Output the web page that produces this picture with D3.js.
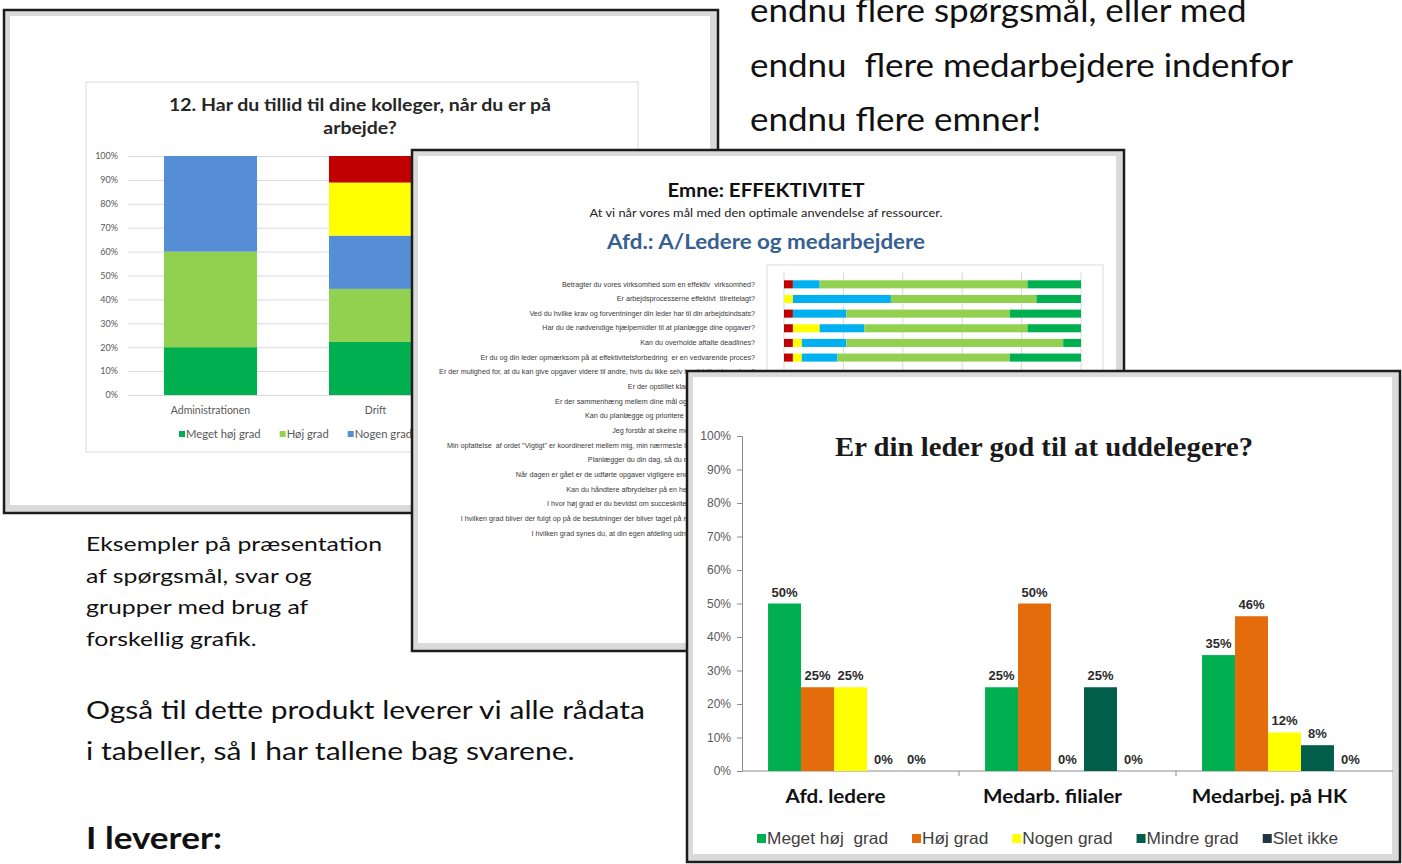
<!DOCTYPE html>
<html><head><meta charset="utf-8">
<script src="https://cdn.jsdelivr.net/npm/d3@7"></script>
<style>body{margin:0;background:#fff}svg{display:block}text{white-space:pre}</style>
</head><body>
<svg id="c" width="1402" height="864"></svg>
<script>
// ---------------- DATA ----------------
// Page text
const pageTopLines = ["endnu flere spørgsmål, eller med", "endnu  flere medarbejdere indenfor", "endnu flere emner!"];
const captionLines = ["Eksempler på præsentation", "af spørgsmål, svar og", "grupper med brug af", "forskellig grafik."];
const bodyLines = ["Også til dette produkt leverer vi alle rådata", "i tabeller, så I har tallene bag svarene."];
const headingText = "I leverer:";

// Chart 1: stacked 100% columns
const c1Title = ["12. Har du tillid til dine kolleger, når du er på", "arbejde?"];
const c1Categories = ["Administrationen", "Drift"];
const c1Series = ["Meget høj grad", "Høj grad", "Nogen grad", "Mindre grad", "Slet ikke"];
const c1Administrationen = [20, 40, 40, 0, 0];
const c1Drift = [22.2, 22.2, 22.3, 22.2, 11.1];
const c1Ticks = [0, 10, 20, 30, 40, 50, 60, 70, 80, 90, 100];

// Chart 2: horizontal stacked bars
const c2Heading = "Emne: EFFEKTIVITET";
const c2Sub = "At vi når vores mål med den optimale anvendelse af ressourcer.";
const c2Dept = "Afd.: A/Ledere og medarbejdere";
const c2Questions = [
  "Betragter du vores virksomhed som en effektiv  virksomhed?",
  "Er arbejdsprocesserne effektivt  tilrettelagt?",
  "Ved du hvilke krav og forventninger din leder har til din arbejdsindsats?",
  "Har du de nødvendige hjælpemidler til at planlægge dine opgaver?",
  "Kan du overholde aftalte deadlines?",
  "Er du og din leder opmærksom på at effektivitetsforbedring  er en vedvarende proces?",
  "Er der mulighed for, at du kan give opgaver videre til andre, hvis du ikke selv har tid til at løse dem?",
  "Er der opstillet klare mål for dit arbejde?",
  "Er der sammenhæng mellem dine mål og virksomhedens mål?",
  "Kan du planlægge og prioritere dine arbejdsopgaver?",
  "Jeg forstår at skelne mellem vigtigt og haster",
  "Min opfattelse  af ordet \"Vigtigt\" er koordineret mellem mig, min nærmeste leder og mine kolleger",
  "Planlægger du din dag, så du når det vigtigste først?",
  "Når dagen er gået er de udførte opgaver vigtigere end dem du ikke nåede?",
  "Kan du håndtere afbrydelser på en hensigtsmæssig måde?",
  "I hvor høj grad er du bevidst om succeskriterierne for dit arbejde?",
  "I hvilken grad bliver der fulgt op på de beslutninger der bliver taget på møderne i afdelingen?",
  "I hvilken grad synes du, at din egen afdeling udnytter sine ressourcer?"
];
const c2Series = ["Slet ikke", "Mindre grad", "Nogen grad", "Høj grad", "Meget høj grad"];
// visible rows (1-6), values in % per series
const c2SletIkke   = [3, 0, 3, 3, 3, 3];
const c2MindreGrad = [0, 3, 0, 9, 3, 3];
const c2NogenGrad  = [9, 33, 18, 15, 15, 12];
const c2HojGrad    = [70, 49, 55, 55, 73, 58];
const c2MegetHoj   = [18, 15, 24, 18, 6, 24];
const c2Ticks = [0, 20, 40, 60, 80, 100];

// Chart 3: grouped columns
const c3Title = "Er din leder god til at uddelegere?";
const c3Groups = ["Afd. ledere", "Medarb. filialer", "Medarbej. på HK"];
const c3Series = ["Meget høj  grad", "Høj grad", "Nogen grad", "Mindre grad", "Slet ikke"];
const c3MegetHoj = [0.50, 0.25, 0.346];
const c3Hoj      = [0.25, 0.50, 0.462];
const c3Nogen    = [0.25, 0.00, 0.115];
const c3Mindre   = [0.00, 0.25, 0.077];
const c3Slet     = [0.00, 0.00, 0.000];
const c3Ticks = [0, 0.1, 0.2, 0.3, 0.4, 0.5, 0.6, 0.7, 0.8, 0.9, 1.0];

// ---------------- STYLES ----------------
const BODY = "Lato, 'Open Sans', sans-serif";
const ARIAL = "'Liberation Sans', Arial, sans-serif";
const SERIF = "'Liberation Serif', 'Times New Roman', serif";
const c1Colors = ["#00B050", "#92D050", "#558ED5", "#FFFF00", "#C00000"];
const c2Colors = ["#C00000", "#FFFF00", "#00B0F0", "#92D050", "#00B050"];
const c3Colors = ["#00B050", "#E46C0A", "#FFFF00", "#005E4B", "#1E3646"];

// stretch a block of texts so that its reference line gets the target width
function fitBlock(sel, target, refIndex = 0) {
  const nodes = sel.nodes();
  const k = target / nodes[refIndex].getComputedTextLength();
  nodes.forEach(n => {
    const w = n.getComputedTextLength();
    n.setAttribute("textLength", w * k);
    n.setAttribute("lengthAdjust", "spacingAndGlyphs");
  });
  return k;
}

const svg = d3.select("#c");
svg.append("rect").attr("width", 1402).attr("height", 864).attr("fill", "#fff");

// ---------------- PAGE TEXT ----------------
const page = svg.append("g");
fitBlock(page.selectAll("text.top").data(pageTopLines).join("text").attr("class", "top")
  .attr("x", 750).attr("y", (d, i) => 22 + i * 54.5)
  .attr("font-family", BODY).attr("font-size", 32).attr("fill", "#111").text(d => d), 543, 1);
fitBlock(page.selectAll("text.cap").data(captionLines).join("text").attr("class", "cap")
  .attr("x", 86).attr("y", (d, i) => 551 + i * 31.5)
  .attr("font-family", BODY).attr("font-size", 20).attr("fill", "#111").text(d => d), 296);
fitBlock(page.selectAll("text.body").data(bodyLines).join("text").attr("class", "body")
  .attr("x", 86).attr("y", (d, i) => 719 + i * 41)
  .attr("font-family", BODY).attr("font-size", 25).attr("fill", "#111").text(d => d), 559);
fitBlock(page.append("text").attr("x", 86).attr("y", 849)
  .attr("font-family", BODY).attr("font-size", 30).attr("font-weight", 700).attr("fill", "#111").text(headingText), 136);

function panel(g, x, y, w, h) {
  g.append("rect").attr("x", x).attr("y", y).attr("width", w).attr("height", h)
    .attr("fill", "#dadada").attr("stroke", "#1c1c1c").attr("stroke-width", 2.5);
  g.append("rect").attr("x", x + 6).attr("y", y + 6).attr("width", w - 14).attr("height", h - 14)
    .attr("fill", "#fff");
}

// ---------------- PANEL 1 ----------------
const p1 = svg.append("g");
panel(p1, 4, 10, 714, 503);
p1.append("rect").attr("x", 86).attr("y", 82).attr("width", 552).attr("height", 370)
  .attr("fill", "#fff").attr("stroke", "#d9d9d9");
fitBlock(p1.selectAll("text.t").data(c1Title).join("text").attr("class", "t")
  .attr("x", 360).attr("y", (d, i) => 111 + i * 23).attr("text-anchor", "middle")
  .attr("font-family", BODY).attr("font-size", 16.5).attr("font-weight", 700).attr("fill", "#262626").text(d => d), 382);

const y1 = d3.scaleLinear().domain([0, 100]).range([395, 156]);
const x1 = d3.scaleBand().domain(c1Categories).range([128, 458]).paddingInner(0.436).paddingOuter(0.218);
const ax1 = p1.append("g").attr("transform", "translate(128,0)")
  .call(d3.axisLeft(y1).tickValues(c1Ticks).tickSize(-495).tickPadding(10).tickFormat(d => d + "%"));
ax1.select(".domain").remove();
ax1.selectAll(".tick line").attr("stroke", "#d9d9d9");
ax1.selectAll(".tick text").attr("font-family", BODY).attr("font-size", 9).attr("fill", "#595959");

const c1Rows = c1Categories.map((c, i) => {
  const vals = [c1Administrationen, c1Drift][i];
  const o = { cat: c };
  c1Series.forEach((s, j) => o[s] = vals[j]);
  return o;
});
const st1 = d3.stack().keys(c1Series)(c1Rows);
p1.append("g").selectAll("g").data(st1).join("g").attr("fill", (d, i) => c1Colors[i])
  .selectAll("rect").data(d => d).join("rect")
  .attr("x", d => x1(d.data.cat)).attr("width", x1.bandwidth())
  .attr("y", d => y1(d[1])).attr("height", d => y1(d[0]) - y1(d[1]));
p1.selectAll("text.cat").data(c1Categories).join("text").attr("class", "cat")
  .attr("x", d => x1(d) + x1.bandwidth() / 2).attr("y", 414).attr("text-anchor", "middle")
  .attr("font-family", BODY).attr("font-size", 10.5).attr("fill", "#595959").text(d => d);
{
  let lx = 179;
  c1Series.forEach((s, i) => {
    p1.append("rect").attr("x", lx).attr("y", 431).attr("width", 6).attr("height", 6).attr("fill", c1Colors[i]);
    const t = p1.append("text").attr("x", lx + 7).attr("y", 438)
      .attr("font-family", BODY).attr("font-size", 10.5).attr("fill", "#595959").text(s);
    const w = t.node().getComputedTextLength() * 1.07;
    t.attr("textLength", w).attr("lengthAdjust", "spacingAndGlyphs");
    lx += 7 + w + 19;
  });
}

// ---------------- PANEL 2 ----------------
const p2 = svg.append("g");
panel(p2, 412, 150, 712, 501);
fitBlock(p2.append("text").attr("x", 766).attr("y", 197).attr("text-anchor", "middle")
  .attr("font-family", BODY).attr("font-size", 19).attr("font-weight", 700).attr("fill", "#111").text(c2Heading), 197);
fitBlock(p2.append("text").attr("x", 766).attr("y", 217).attr("text-anchor", "middle")
  .attr("font-family", BODY).attr("font-size", 11.5).attr("fill", "#222").text(c2Sub), 353);
fitBlock(p2.append("text").attr("x", 766).attr("y", 249).attr("text-anchor", "middle")
  .attr("font-family", BODY).attr("font-size", 21).attr("font-weight", 700).attr("fill", "#376092").text(c2Dept), 318);

const x2 = d3.scaleLinear().domain([0, 100]).range([784, 1081]);
const y2 = d3.scaleBand().domain(c2Questions).range([277, 277 + 18 * 14.65]).paddingInner(0.45).paddingOuter(0.225);
p2.append("rect").attr("x", 767).attr("y", 265).attr("width", 336).attr("height", 300)
  .attr("fill", "#fff").attr("stroke", "#d9d9d9");
p2.selectAll("line.g").data(c2Ticks).join("line").attr("class", "g")
  .attr("x1", d => x2(d)).attr("x2", d => x2(d)).attr("y1", 272).attr("y2", 545)
  .attr("stroke", "#d9d9d9");
const ay2 = p2.append("g").attr("transform", "translate(784,0)")
  .call(d3.axisLeft(y2).tickSize(0).tickPadding(29));
ay2.select(".domain").remove();
ay2.selectAll(".tick text").attr("font-family", ARIAL).attr("font-size", 6.8).attr("fill", "#3a3a3a");
fitBlock(ay2.selectAll(".tick text"), 193);

const c2Cols = [c2SletIkke, c2MindreGrad, c2NogenGrad, c2HojGrad, c2MegetHoj];
const c2Rows = c2SletIkke.map((_, i) => {
  const o = { q: c2Questions[i] };
  c2Series.forEach((s, j) => o[s] = c2Cols[j][i]);
  return o;
});
const st2 = d3.stack().keys(c2Series)(c2Rows);
p2.append("g").selectAll("g").data(st2).join("g").attr("fill", (d, i) => c2Colors[i])
  .selectAll("rect").data(d => d).join("rect")
  .attr("y", d => y2(d.data.q)).attr("height", y2.bandwidth())
  .attr("x", d => x2(d[0])).attr("width", d => x2(d[1]) - x2(d[0]));

// ---------------- PANEL 3 ----------------
const p3 = svg.append("g");
panel(p3, 687, 371, 713, 491);
const y3 = d3.scaleLinear().domain([0, 1]).range([771, 436]);
const x3 = d3.scaleBand().domain(c3Groups).range([742, 1393]).padding(0);
const xs3 = d3.scaleBand().domain(c3Series).range([0, x3.bandwidth()]).paddingInner(0).paddingOuter(0.79);

const ay3 = p3.append("g").attr("transform", "translate(742,0)")
  .call(d3.axisLeft(y3).tickValues(c3Ticks).tickSize(5).tickPadding(6).tickFormat(d3.format(".0%")));
ay3.select(".domain").attr("stroke", "#8c8c8c");
ay3.selectAll(".tick line").attr("stroke", "#8c8c8c");
ay3.selectAll(".tick text").attr("font-family", ARIAL).attr("font-size", 12).attr("fill", "#595959");

p3.append("line").attr("x1", 742).attr("x2", 1393).attr("y1", y3(0)).attr("y2", y3(0)).attr("stroke", "#8c8c8c");
p3.selectAll("line.sep").data(c3Groups.slice(1)).join("line").attr("class", "sep")
  .attr("x1", d => x3(d)).attr("x2", d => x3(d)).attr("y1", y3(0)).attr("y2", y3(0) + 5).attr("stroke", "#8c8c8c");

fitBlock(p3.append("text").attr("x", 1044).attr("y", 456).attr("text-anchor", "middle")
  .attr("font-family", SERIF).attr("font-size", 27).attr("font-weight", 700).attr("fill", "#1a1a1a").text(c3Title), 418);

const c3Cols = [c3MegetHoj, c3Hoj, c3Nogen, c3Mindre, c3Slet];
const c3Data = [];
c3Groups.forEach((g, i) => c3Series.forEach((s, j) => c3Data.push({ g, s, j, v: c3Cols[j][i] })));
p3.append("g").selectAll("rect").data(c3Data).join("rect")
  .attr("x", d => x3(d.g) + xs3(d.s)).attr("width", xs3.bandwidth())
  .attr("y", d => y3(d.v)).attr("height", d => y3(0) - y3(d.v))
  .attr("fill", d => c3Colors[d.j]);
p3.append("g").selectAll("text").data(c3Data).join("text")
  .attr("x", d => x3(d.g) + xs3(d.s) + xs3.bandwidth() / 2).attr("y", d => y3(d.v) - 7)
  .attr("text-anchor", "middle").attr("font-family", ARIAL).attr("font-size", 13).attr("font-weight", 700)
  .attr("fill", "#2b2b2b").text(d => d3.format(".0%")(d.v));
fitBlock(p3.selectAll("text.grp").data(c3Groups).join("text").attr("class", "grp")
  .attr("x", d => x3(d) + x3.bandwidth() / 2 - 15).attr("y", 803).attr("text-anchor", "middle")
  .attr("font-family", BODY).attr("font-size", 18).attr("font-weight", 700).attr("fill", "#111").text(d => d), 100);
{
  let lx = 757;
  let k = null;
  c3Series.forEach((s, i) => {
    p3.append("rect").attr("x", lx).attr("y", 834).attr("width", 9).attr("height", 9).attr("fill", c3Colors[i]);
    const t = p3.append("text").attr("x", lx + 10).attr("y", 844)
      .attr("font-family", ARIAL).attr("font-size", 16.5).attr("fill", "#404040").text(s);
    const nat = t.node().getComputedTextLength();
    if (k === null) k = 121 / nat;
    const w = nat * k;
    t.attr("textLength", w).attr("lengthAdjust", "spacingAndGlyphs");
    lx += 10 + w + 24;
  });
}
</script>
</body></html>
